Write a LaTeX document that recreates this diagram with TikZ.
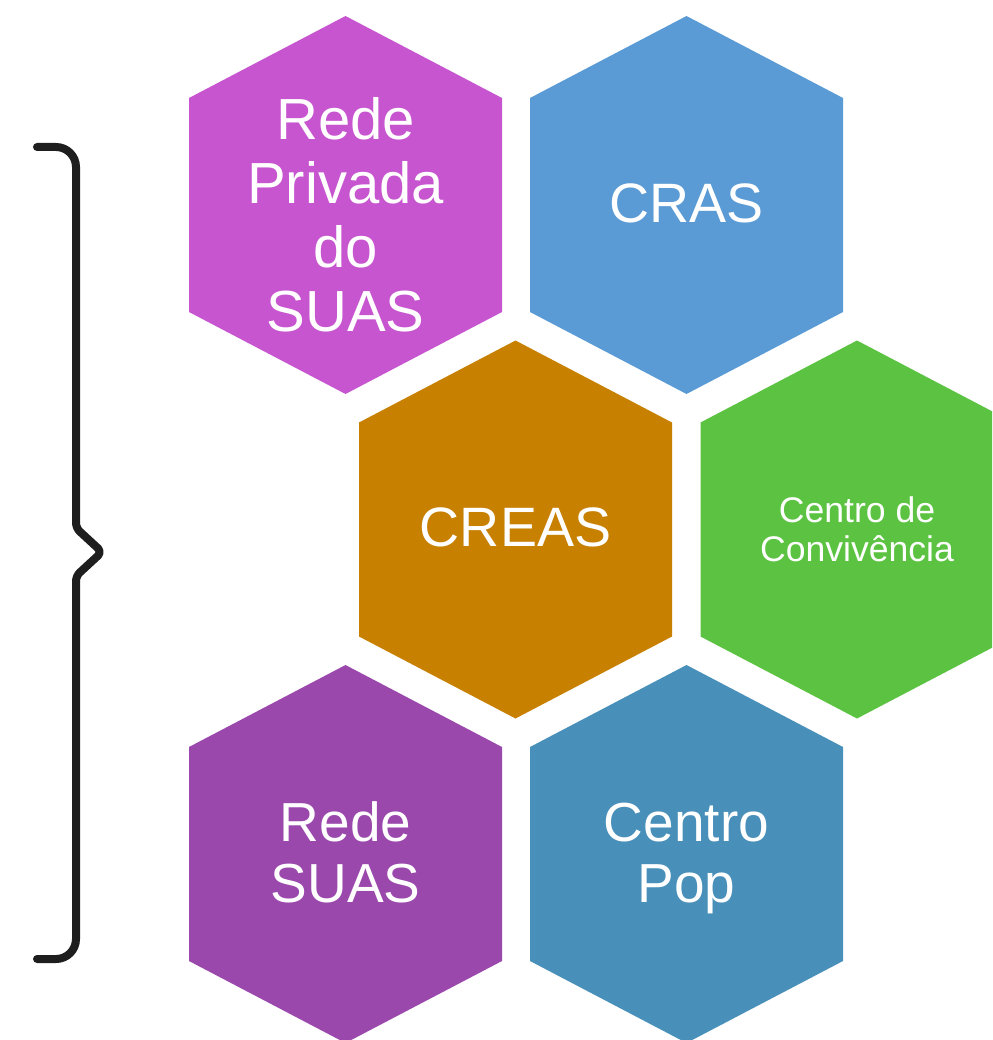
\documentclass[tikz,border=0pt]{standalone}
\usepackage{fontspec}
\setmainfont{Liberation Sans}
\definecolor{cPriv}{RGB}{199,85,207}
\definecolor{cCras}{RGB}{91,155,213}
\definecolor{cCreas}{RGB}{199,128,0}
\definecolor{cConv}{RGB}{91,195,65}
\definecolor{cRede}{RGB}{155,72,173}
\definecolor{cPop}{RGB}{72,143,185}
\definecolor{cBrace}{RGB}{30,30,30}
\newcommand{\hexcell}[8]{%
  \fill[#4] (#2,#3) ++(0,-189) -- ++(156.5,82) -- ++(0,214) -- ++(-156.5,82) -- ++(-156.5,-82) -- ++(0,-214) -- cycle;
  \node[hextext, font=\fontsize{#5}{#6}\selectfont] (#1) at (#2,#3+#7) {#8};
}
\tikzset{
  hextext/.style={text=white, align=center, inner sep=0pt},
  bracestyle/.style={draw=cBrace, line width=8pt, line cap=round, line join=round}
}
\begin{document}
\begin{tikzpicture}[x=1pt,y=-1pt]
\useasboundingbox (0,0) rectangle (992,1040);
\clip (0,0) rectangle (992,1040);
\hexcell{priv}{345.5}{205}{cPriv}{58}{64}{10}{Rede\\Privada\\do\\SUAS}
\hexcell{cras}{686.5}{205}{cCras}{55.5}{61}{-2}{CRAS}
\hexcell{creas}{515.5}{529.5}{cCreas}{55.5}{61}{-2}{CREAS}
\hexcell{conv}{857}{529.5}{cConv}{35.6}{39}{0}{Centro de\\Convivência}
\hexcell{rede}{345.5}{854}{cRede}{55}{61}{-2}{Rede\\SUAS}
\hexcell{pop}{686.5}{854}{cPop}{55}{61}{4}{Centro\\Pop}
\coordinate (btop) at (37,147);
\coordinate (bbot) at (37,959);
\draw[bracestyle] (btop) [rounded corners=20pt] -- (76,147) [rounded corners=5pt] -- (76,528) -- (102,552) -- (76,576) [rounded corners=20pt] -- (76,959) -- (bbot);
\end{tikzpicture}
\end{document}
